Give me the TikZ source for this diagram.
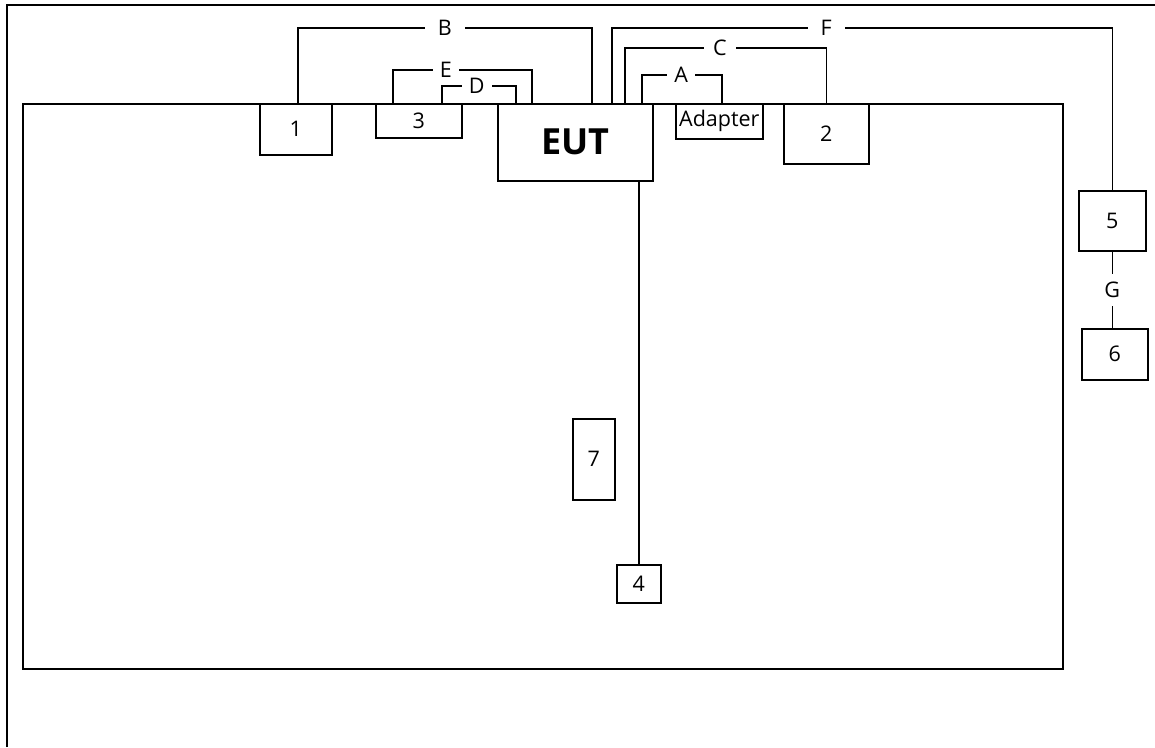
\documentclass[tikz,border=0pt]{standalone}
\usepackage{fontspec}
\setmainfont{Open Sans}
\usepackage{tikz}

\begin{document}
\begin{tikzpicture}[
    x=1pt, y=-1pt,
    box/.style={
        draw,
        line width=1.6pt,
        anchor=north west,
        inner sep=0pt,
        font=\fontsize{21.5}{24}\selectfont
    },
    cable/.style={
        line width=1.6pt
    },
    lbl/.style={
        fill=white,
        inner xsep=7pt,
        inner ysep=2pt,
        font=\fontsize{21.5}{24}\selectfont
    },
    widelbl/.style={
        lbl,
        inner xsep=13pt
    }
]
\useasboundingbox (0,0) rectangle (1155,747);

% Frame
\draw[line width=1.6pt] (7,747) -- (7,5) -- (1155,5);

% Nodes
\node (table)   [box, minimum width=1040, minimum height=565] at (22,103) {};
\node (one)     [box, minimum width=72, minimum height=51] at (259,103) {1};
\node (three)   [box, minimum width=86, minimum height=34] at (375,103) {3};
\node (eut)     [box, minimum width=155, minimum height=77,
                 font=\fontsize{36}{40}\selectfont\bfseries] at (497,103) {EUT};
\node (adapter) [box, minimum width=87, minimum height=35] at (675,103) {Adapter};
\node (two)     [box, minimum width=85, minimum height=60] at (783,103) {2};
\node (five)    [box, minimum width=67, minimum height=60] at (1078,190) {5};
\node (six)     [box, minimum width=66, minimum height=51] at (1081,328) {6};
\node (seven)   [box, minimum width=42, minimum height=81] at (572,418) {7};
\node (four)    [box, minimum width=44, minimum height=38] at (616,564) {4};

% Cables
\draw[cable] ([xshift=2pt]one.north) -- ++(0,-75) -| ([xshift=95pt]eut.north west)
    node[widelbl, pos=0.25] {B};
\draw[cable] ([xshift=18pt]three.north west) -- ++(0,-33) -| ([xshift=35pt]eut.north west)
    node[lbl, pos=0.19] {E};
\draw[cable] ([xshift=67pt]three.north west) -- ++(0,-17) -| ([xshift=19pt]eut.north west)
    node[lbl, pos=0.235] {D};
\draw[cable] ([xshift=115pt]eut.north west) -- ++(0,-75) -| (five.north)
    node[widelbl, pos=0.214] {F};
\draw[cable] ([xshift=128pt]eut.north west) -- ++(0,-55) -| (two.north)
    node[lbl, inner xsep=9pt, pos=0.236] {C};
\draw[cable] ([xshift=145pt]eut.north west) -- ++(0,-28) -| ([xshift=47pt]adapter.north west)
    node[lbl, pos=0.245] {A};
\draw[cable] (four.north |- eut.south) -- (four.north);
\draw[cable] (five.south) -- (five.south |- six.north)
    node[lbl, midway, inner xsep=2pt, inner ysep=8pt] {G};

\end{tikzpicture}
\end{document}
